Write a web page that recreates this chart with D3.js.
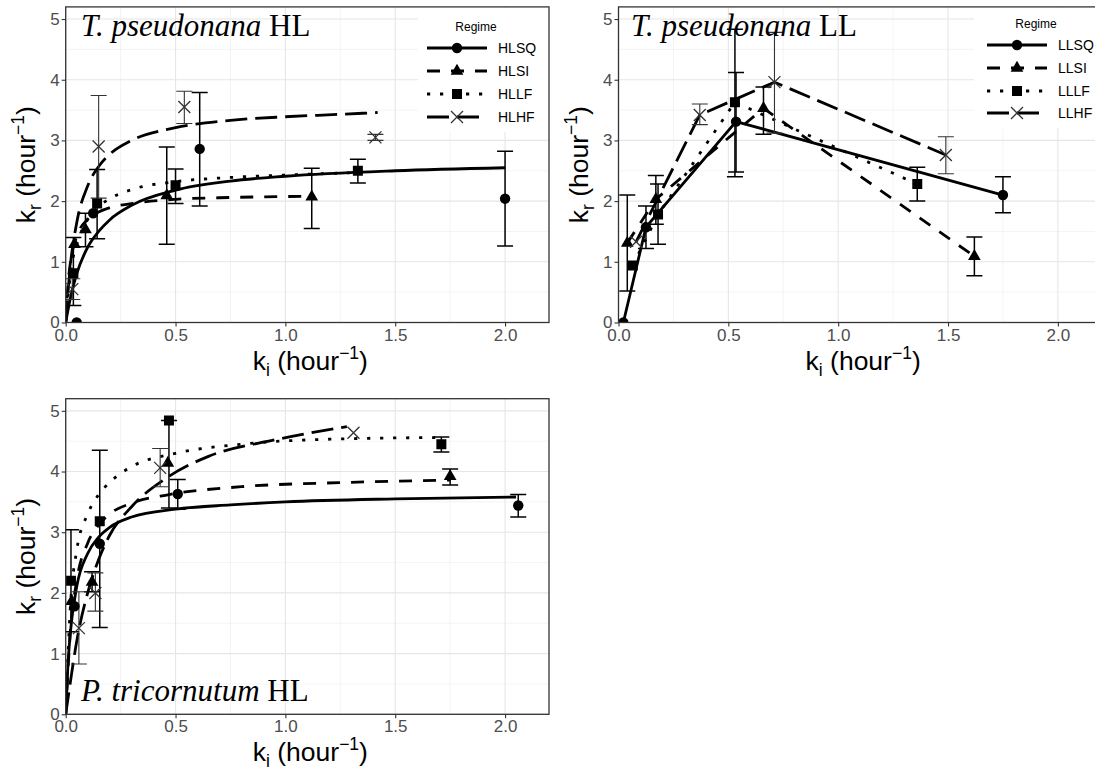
<!DOCTYPE html>
<html><head><meta charset="utf-8">
<script src="https://cdn.jsdelivr.net/npm/d3@7"></script>
<style>body{margin:0;background:#fff;overflow:hidden} svg{display:block}</style>
</head><body><svg id="c" width="1095" height="773"></svg>
<script>
// ---------- axis ticks ----------
const xTickVals = [0, 0.5, 1, 1.5, 2];
const xTickLabels = ["0.0", "0.5", "1.0", "1.5", "2.0"];
const xMinor = [0.25, 0.75, 1.25, 1.75];
const yTickVals = [0, 1, 2, 3, 4, 5];
const yTickLabels = ["0", "1", "2", "3", "4", "5"];
const yMinor = [0.5, 1.5, 2.5, 3.5, 4.5];
const xDomain = [0, 2.2], yDomain = [0, 5.2];

// ---------- Panel A: T. pseudonana HL ----------
const hlsqX = [0.05, 0.125, 0.61, 2.0];
const hlsqY = [0.0, 1.80, 2.86, 2.04];
const hlsqLo = [null, null, 1.92, 1.26];
const hlsqHi = [null, null, 3.79, 2.82];
const hlsqCurveX = [0, 0.02, 0.05, 0.1, 0.15, 0.2, 0.3, 0.5, 0.75, 1.0, 1.5, 2.0];
const hlsqCurveY = [0, 0.38, 0.80, 1.24, 1.50, 1.69, 1.93, 2.18, 2.33, 2.41, 2.50, 2.55];

const hlsiX = [0.04, 0.09, 0.46, 1.12];
const hlsiY = [1.29, 1.53, 2.09, 2.07];
const hlsiLo = [null, 1.25, 1.29, 1.55];
const hlsiHi = [null, 1.80, 2.89, 2.54];
const hlsiCurveX = [0, 0.01, 0.03, 0.05, 0.1, 0.15, 0.2, 0.3, 0.5, 0.75, 1.12];
const hlsiCurveY = [0, 0.60, 1.16, 1.42, 1.70, 1.82, 1.89, 1.96, 2.03, 2.06, 2.08];

const hllfX = [0.035, 0.143, 0.50, 1.33];
const hllfY = [0.81, 1.96, 2.26, 2.50];
const hllfLo = [0.28, 1.38, 1.96, 2.30];
const hllfHi = [1.40, 2.52, 2.53, 2.69];
const hllfCurveX = [0, 0.01, 0.03, 0.05, 0.1, 0.15, 0.2, 0.3, 0.5, 0.75, 1.0, 1.33];
const hllfCurveY = [0, 0.42, 1.00, 1.28, 1.70, 1.91, 2.04, 2.19, 2.32, 2.39, 2.43, 2.47];

const hlhfX = [0.03, 0.15, 0.54, 1.41];
const hlhfY = [0.55, 2.90, 3.55, 3.05];
const hlhfLo = [0.38, 2.05, 3.28, 3.00];
const hlhfHi = [0.72, 3.74, 3.81, 3.10];
const hlhfCurveX = [0, 0.02, 0.05, 0.1, 0.15, 0.2, 0.3, 0.5, 0.75, 1.0, 1.25, 1.42];
const hlhfCurveY = [0, 0.90, 1.64, 2.25, 2.57, 2.77, 3.00, 3.21, 3.33, 3.39, 3.43, 3.46];

// ---------- Panel B: T. pseudonana LL ----------
const llsqX = [0.022, 0.125, 0.535, 1.75];
const llsqY = [0.0, 1.57, 3.31, 2.10];
const llsqLo = [null, 1.22, 2.48, 1.81];
const llsqHi = [null, 1.92, 4.12, 2.40];

const llsiX = [0.04, 0.17, 0.66, 1.62];
const llsiY = [1.31, 2.03, 3.53, 1.09];
const llsiLo = [0.52, 1.62, 3.10, 0.77];
const llsiHi = [2.10, 2.42, 3.88, 1.41];

const lllfX = [0.065, 0.18, 0.53, 1.36];
const lllfY = [0.94, 1.78, 3.63, 2.28];
const lllfLo = [null, 1.29, 2.40, 2.00];
const lllfHi = [null, 2.28, 4.83, 2.56];

const llhfX = [0.08, 0.37, 0.71, 1.49];
const llhfY = [1.33, 3.42, 3.96, 2.76];
const llhfLo = [null, 3.26, 3.12, 2.45];
const llhfHi = [null, 3.60, 4.78, 3.06];

// ---------- Panel C: P. tricornutum HL ----------
const ptsqX = [0.04, 0.155, 0.51, 2.06];
const ptsqY = [1.78, 2.81, 3.63, 3.44];
const ptsqLo = [null, 1.43, 3.38, 3.25];
const ptsqHi = [null, 4.35, 3.87, 3.62];
const ptsqCurveX = [0, 0.01, 0.02, 0.05, 0.1, 0.15, 0.2, 0.3, 0.5, 0.75, 1.0, 1.5, 2.05];
const ptsqCurveY = [0, 0.80, 1.30, 2.10, 2.65, 2.92, 3.08, 3.25, 3.38, 3.45, 3.50, 3.55, 3.58];

const ptsiX = [0.027, 0.12, 0.465, 1.75];
const ptsiY = [1.86, 2.18, 4.14, 3.92];
const ptsiLo = [null, 2.02, null, 3.78];
const ptsiHi = [null, 2.35, null, 4.04];
const ptsiCurveX = [0, 0.02, 0.05, 0.1, 0.15, 0.2, 0.3, 0.47, 0.8, 1.28, 1.75];
const ptsiCurveY = [0, 1.30, 2.20, 2.82, 3.12, 3.30, 3.48, 3.62, 3.75, 3.82, 3.86];

const ptlfX = [0.024, 0.155, 0.47, 1.71];
const ptlfY = [2.20, 3.18, 4.84, 4.45];
const ptlfLo = [1.36, null, 3.40, 4.32];
const ptlfHi = [3.04, null, 4.84, 4.57];
const ptlfCurveX = [0, 0.02, 0.05, 0.1, 0.15, 0.2, 0.3, 0.5, 0.8, 1.28, 1.71];
const ptlfCurveY = [0, 1.70, 2.70, 3.30, 3.62, 3.82, 4.08, 4.30, 4.45, 4.54, 4.56];

const pthfX = [0.06, 0.135, 0.43, 1.31];
const pthfY = [1.42, 2.00, 4.06, 4.64];
const pthfLo = [0.83, 1.70, 3.75, null];
const pthfHi = [2.02, 2.33, 4.38, null];
const pthfCurveX = [0, 0.02, 0.05, 0.1, 0.15, 0.2, 0.3, 0.47, 0.65, 0.95, 1.28];
const pthfCurveY = [0, 0.50, 1.20, 2.00, 2.55, 2.95, 3.42, 3.92, 4.25, 4.52, 4.74];

const hlLabels = ["HLSQ", "HLSI", "HLLF", "HLHF"];
const llLabels = ["LLSQ", "LLSI", "LLLF", "LLHF"];

// ---------- styles ----------
const styles = [
  {shape: "circle", dash: null},
  {shape: "triangle", dash: "13,11"},
  {shape: "square", dash: "3.2,9.8"},
  {shape: "cross", dash: "22,8"}
];

const svg = d3.select("#c");
const FONT = "'Liberation Sans', Arial, sans-serif";

function mk(x, y, lo, hi, cx, cy) { return {x, y, lo, hi, cx, cy}; }

const panels = [
  {id: "a", left: 65.7, top: 6.9, width: 483.3, height: 315.6,
   italic: "T. pseudonana", rest: " HL", tx: 81, ty: 36,
   series: [mk(hlsqX, hlsqY, hlsqLo, hlsqHi, hlsqCurveX, hlsqCurveY),
            mk(hlsiX, hlsiY, hlsiLo, hlsiHi, hlsiCurveX, hlsiCurveY),
            mk(hllfX, hllfY, hllfLo, hllfHi, hllfCurveX, hllfCurveY),
            mk(hlhfX, hlhfY, hlhfLo, hlhfHi, hlhfCurveX, hlhfCurveY)],
   legend: {labels: hlLabels, box: [418, 8, 131, 124], keyX: 457, textX: 498, titleY: 27, rowY: [48, 71, 94, 117]}},
  {id: "b", left: 618.5, top: 6.9, width: 483.3, height: 315.6,
   italic: "T. pseudonana", rest: " LL", tx: 631, ty: 36,
   series: [mk(llsqX, llsqY, llsqLo, llsqHi),
            mk(llsiX, llsiY, llsiLo, llsiHi),
            mk(lllfX, lllfY, lllfLo, lllfHi),
            mk(llhfX, llhfY, llhfLo, llhfHi)],
   legend: {labels: llLabels, box: [974, 8, 130, 120], keyX: 1017, textX: 1058, titleY: 24, rowY: [45, 68, 91, 113]}},
  {id: "c", left: 65.7, top: 398.7, width: 483.3, height: 315.6,
   italic: "P. tricornutum", rest: " HL", tx: 81, ty: 701,
   series: [mk(ptsqX, ptsqY, ptsqLo, ptsqHi, ptsqCurveX, ptsqCurveY),
            mk(ptsiX, ptsiY, ptsiLo, ptsiHi, ptsiCurveX, ptsiCurveY),
            mk(ptlfX, ptlfY, ptlfLo, ptlfHi, ptlfCurveX, ptlfCurveY),
            mk(pthfX, pthfY, pthfLo, pthfHi, pthfCurveX, pthfCurveY)],
   legend: null}
];

function drawShape(g, shape, px, py) {
  if (shape === "cross") {
    const r = 6;
    g.append("path").attr("d", `M${px - r},${py - r}L${px + r},${py + r}M${px - r},${py + r}L${px + r},${py - r}`)
      .attr("stroke", "#333").attr("stroke-width", 1.3).attr("fill", "none");
  } else {
    const type = shape === "circle" ? d3.symbolCircle : shape === "triangle" ? d3.symbolTriangle : d3.symbolSquare;
    const size = shape === "circle" ? 85 : shape === "triangle" ? 70 : 100;
    g.append("path").attr("d", d3.symbol().type(type).size(size)())
      .attr("transform", `translate(${px},${py})`).attr("fill", "#000");
  }
}

function axisTitle(g, x, y, base, sub, rotate) {
  const t = g.append("text").attr("font-family", FONT).attr("font-size", 26.5).attr("fill", "#000")
    .attr("text-anchor", "middle");
  if (rotate) t.attr("transform", `translate(${x},${y}) rotate(-90)`);
  else t.attr("x", x).attr("y", y);
  t.append("tspan").text(base);
  t.append("tspan").attr("font-size", 17.5).attr("dy", 6).text(sub);
  t.append("tspan").attr("dy", -6).text(" (hour");
  t.append("tspan").attr("font-size", 17.5).attr("dy", -11).text("\u22121");
  t.append("tspan").attr("dy", 11).text(")");
}

panels.forEach(p => {
  const x = d3.scaleLinear().domain(xDomain).range([p.left, p.left + p.width]);
  const y = d3.scaleLinear().domain(yDomain).range([p.top + p.height, p.top]);
  const g = svg.append("g");
  const clipId = "clip-" + p.id;
  svg.append("clipPath").attr("id", clipId).append("rect")
    .attr("x", p.left).attr("y", p.top).attr("width", p.width).attr("height", p.height);

  // grid
  const grid = g.append("g");
  xMinor.forEach(v => grid.append("line").attr("x1", x(v)).attr("x2", x(v)).attr("y1", p.top).attr("y2", p.top + p.height)
    .attr("stroke", "#ececec").attr("stroke-width", 0.6));
  yMinor.forEach(v => grid.append("line").attr("y1", y(v)).attr("y2", y(v)).attr("x1", p.left).attr("x2", p.left + p.width)
    .attr("stroke", "#ececec").attr("stroke-width", 0.6));
  xTickVals.forEach(v => grid.append("line").attr("x1", x(v)).attr("x2", x(v)).attr("y1", p.top).attr("y2", p.top + p.height)
    .attr("stroke", "#e6e6e6").attr("stroke-width", 1.1));
  yTickVals.forEach(v => grid.append("line").attr("y1", y(v)).attr("y2", y(v)).attr("x1", p.left).attr("x2", p.left + p.width)
    .attr("stroke", "#e6e6e6").attr("stroke-width", 1.1));

  const plot = g.append("g").attr("clip-path", `url(#${clipId})`);
  // lines
  p.series.forEach((s, i) => {
    const lx = s.cx || s.x, ly = s.cy || s.y;
    const pts = lx.map((v, k) => [v, ly[k]]);
    const line = d3.line().x(d => x(d[0])).y(d => y(d[1])).curve(s.cx ? d3.curveMonotoneX : d3.curveLinear);
    plot.append("path").attr("d", line(pts)).attr("fill", "none").attr("stroke", "#000")
      .attr("stroke-width", 2.8).attr("stroke-dasharray", styles[i].dash);
  });
  // error bars
  p.series.forEach((s, i) => {
    const col = styles[i].shape === "cross" ? "#333" : "#000";
    const sw = styles[i].shape === "cross" ? 1.1 : 1.5;
    s.x.forEach((v, k) => {
      if (s.lo[k] == null) return;
      const px = x(v), y1 = y(s.lo[k]), y2 = y(s.hi[k]);
      plot.append("line").attr("x1", px).attr("x2", px).attr("y1", y1).attr("y2", y2).attr("stroke", col).attr("stroke-width", sw);
      [y1, y2].forEach(yy => plot.append("line").attr("x1", px - 8).attr("x2", px + 8).attr("y1", yy).attr("y2", yy)
        .attr("stroke", col).attr("stroke-width", sw));
    });
  });
  // points
  p.series.forEach((s, i) => {
    s.x.forEach((v, k) => drawShape(plot, styles[i].shape, x(v), y(s.y[k])));
  });

  // legend
  if (p.legend) {
    const L = p.legend, lg = g.append("g");
    lg.append("rect").attr("x", L.box[0]).attr("y", L.box[1]).attr("width", L.box[2]).attr("height", L.box[3]).attr("fill", "#fff");
    lg.append("text").attr("x", L.keyX + 19).attr("y", L.titleY).attr("text-anchor", "middle")
      .attr("font-family", FONT).attr("font-size", 12).attr("fill", "#000").attr("dominant-baseline", "central").text("Regime");
    L.labels.forEach((lab, i) => {
      const yy = L.rowY[i];
      lg.append("line").attr("x1", L.keyX - 30).attr("x2", L.keyX + 30).attr("y1", yy).attr("y2", yy)
        .attr("stroke", "#000").attr("stroke-width", 2.8).attr("stroke-dasharray", styles[i].dash);
      drawShape(lg, styles[i].shape, L.keyX, yy);
      lg.append("text").attr("x", L.textX).attr("y", yy).attr("dominant-baseline", "central")
        .attr("font-family", FONT).attr("font-size", 14).attr("fill", "#000").text(lab);
    });
  }

  // border
  g.append("rect").attr("x", p.left).attr("y", p.top).attr("width", p.width).attr("height", p.height)
    .attr("fill", "none").attr("stroke", "#333").attr("stroke-width", 1.3);

  // axes
  const ax = g.append("g").attr("transform", `translate(0,${p.top + p.height})`)
    .call(d3.axisBottom(x).tickValues(xTickVals).tickFormat((d, i) => xTickLabels[i]).tickSize(4).tickPadding(2));
  const ay = g.append("g").attr("transform", `translate(${p.left},0)`)
    .call(d3.axisLeft(y).tickValues(yTickVals).tickFormat((d, i) => yTickLabels[i]).tickSize(4).tickPadding(2));
  [ax, ay].forEach(a => {
    a.select(".domain").remove();
    a.selectAll(".tick line").attr("stroke", "#333").attr("stroke-width", 1.1);
    a.selectAll(".tick text").attr("font-family", FONT).attr("font-size", 17).attr("fill", "#4d4d4d");
  });

  // panel title
  const t = g.append("text").attr("x", p.tx).attr("y", p.ty).attr("font-family", "'Liberation Serif', 'Times New Roman', serif")
    .attr("font-size", 31).attr("fill", "#000");
  t.append("tspan").attr("font-style", "italic").text(p.italic);
  t.append("tspan").text(p.rest);

  // axis titles
  axisTitle(g, p.left + p.width / 2 + 3, p.top + p.height + 47, "k", "i", false);
  axisTitle(g, p.left - 31, p.top + p.height / 2, "k", "r", true);
});
</script></body></html>
